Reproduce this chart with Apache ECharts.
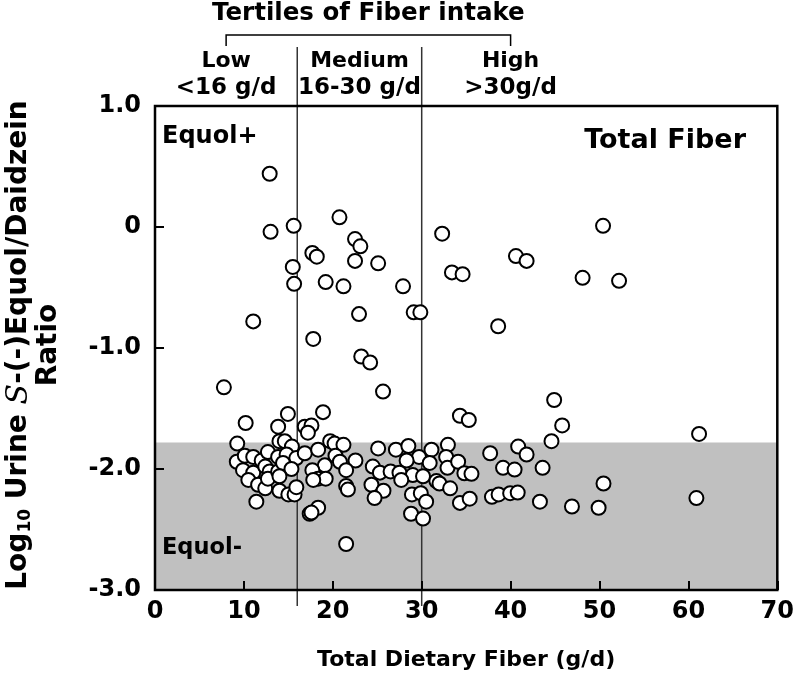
<!DOCTYPE html>
<html><head><meta charset="utf-8">
<script src="https://cdn.jsdelivr.net/npm/echarts@6/dist/echarts.min.js"></script>
<style>html,body{margin:0;padding:0;background:#fff}#c{width:797px;height:683px}</style>
</head><body><div id="c"></div>
<script>
// Total dietary fiber (g/d)
const fiber = [
 12.9,13.0,15.6,20.75,22.5,23.1,32.3,17.7,18.2,22.5,25.1,15.5,15.65,19.2,21.2,27.9,33.4,34.6,11.05,22.95,29.1,29.85,17.8,23.2,24.2,
 40.6,41.8,50.4,48.1,52.2,38.6,7.75,25.65,10.2,44.9,45.8,44.6,61.2,60.9,50.45,49.9,46.9,43.3,43.6,34.3,35.3,18.9,14.95,13.85,16.85,17.6,17.2,21.5,
 9.25,9.2,10.1,11.05,9.9,11.05,10.5,11.6,12.4,11.4,12.0,12.7,12.4,12.9,12.7,13.85,13.85,14.0,14.6,15.4,14.8,15.9,16.85,14.4,15.35,14.0,14.0,15.0,15.7,15.9,17.4,
 19.7,20.2,21.2,18.35,20.3,22.55,20.8,19.1,21.5,17.7,18.35,19.2,17.8,25.1,24.5,25.3,24.35,25.7,24.7,21.5,21.7,18.35,17.6,
 27.1,28.5,29.7,31.1,32.95,28.3,30.9,32.75,32.9,34.1,34.8,35.6,26.5,27.5,29.0,30.15,31.65,27.7,32.0,33.2,28.9,29.9,30.5,28.8,30.15,34.3,35.4,
 37.7,40.85,41.8,39.15,40.45,37.9,38.65,39.95,40.8
];
// Log10 urine S-(-)equol/daidzein ratio
const logRatio = [
 0.44,-0.04,0.01,0.08,-0.10,-0.16,-0.055,-0.215,-0.245,-0.28,-0.30,-0.33,-0.47,-0.455,-0.49,-0.49,-0.375,-0.39,-0.78,-0.72,-0.705,-0.705,-0.925,-1.07,-1.12,
 -0.24,-0.28,0.01,-0.42,-0.445,-0.82,-1.325,-1.36,-1.62,-1.43,-1.64,-1.77,-1.71,-2.24,-2.12,-2.32,-2.31,-2.27,-1.99,-1.56,-1.595,-1.53,-1.545,-1.65,-1.65,-1.64,-1.70,-2.62,
 -1.79,-1.94,-1.89,-1.90,-2.01,-2.03,-2.09,-2.13,-2.16,-2.27,-1.93,-1.86,-1.98,-2.02,-2.08,-1.90,-2.02,-1.77,-1.77,-1.815,-1.88,-1.91,-1.87,-1.95,-2.0,-2.06,-2.18,-2.21,-2.21,-2.15,-2.37,
 -1.77,-1.79,-1.80,-1.84,-1.89,-1.93,-1.94,-1.97,-2.01,-2.01,-2.08,-2.08,-2.09,-1.83,-1.98,-2.03,-2.13,-2.18,-2.24,-2.14,-2.17,-2.32,-2.36,
 -1.84,-1.81,-1.90,-1.84,-1.80,-1.93,-1.95,-1.90,-1.99,-1.94,-2.035,-2.04,-2.02,-2.03,-2.05,-2.06,-2.10,-2.09,-2.12,-2.16,-2.21,-2.20,-2.27,-2.37,-2.41,-2.28,-2.245,
 -1.87,-1.815,-1.88,-1.99,-2.005,-2.23,-2.21,-2.20,-2.195
];
const tertileCuts = [16, 30];
const tertileLabelX = [8, 23, 40];
const tertileNames = ['Low', 'Medium', 'High'];
const tertileRanges = ['<16 g/d', '16-30 g/d', '>30g/d'];
const equolThreshold = -1.78;
const xMin = 0, xMax = 70, xStep = 10;
const yMin = -3, yMax = 1, yStep = 1;

const FF = '"DejaVu Sans", Verdana, sans-serif';
const chart = echarts.init(document.getElementById('c'), null, {renderer: 'canvas'});
const pts = fiber.map((x, i) => [x, logRatio[i]]);

chart.setOption({
  animation: false,
  backgroundColor: '#fff',
  grid: {left: 155, right: 19, top: 106, bottom: 93},
  xAxis: {
    type: 'value', min: xMin, max: xMax, interval: xStep, z: 3,
    axisLine: {show: false, onZero: false},
    axisTick: {show: true, inside: true, length: 9, lineStyle: {color: '#000', width: 2}},
    axisLabel: {color: '#000', fontSize: 24, fontWeight: 'bold', fontFamily: FF, margin: 10},
    splitLine: {show: false},
    name: 'Total Dietary Fiber (g/d)', nameLocation: 'middle', nameGap: 59,
    nameTextStyle: {color: '#000', fontSize: 22, fontWeight: 'bold', fontFamily: FF}
  },
  yAxis: {
    type: 'value', min: yMin, max: yMax, interval: yStep, z: 3,
    axisLine: {show: false, onZero: false},
    axisTick: {show: true, inside: true, length: 9, lineStyle: {color: '#000', width: 2}},
    axisLabel: {color: '#000', fontSize: 24, fontWeight: 'bold', fontFamily: FF, margin: 14,
      formatter: v => v === 0 ? '0' : v.toFixed(1)},
    splitLine: {show: false}
  },
  series: [{
    type: 'scatter', data: pts, symbol: 'circle', symbolSize: 14, z: 5, silent: true,
    itemStyle: {color: '#fff', borderColor: '#000', borderWidth: 2, opacity: 1}
  }]
});

const P = (x, y) => chart.convertToPixel({gridIndex: 0}, [x, y]);
const tl = P(xMin, yMax), br = P(xMax, yMin), band = P(xMin, equolThreshold);
const g = [];
g.push({type: 'rect', z: 0, shape: {x: tl[0], y: band[1], width: br[0] - tl[0], height: br[1] - band[1]}, style: {fill: '#c0c0c0'}});
tertileCuts.forEach(c => {
  const px = P(c, 0)[0];
  g.push({type: 'line', z: 1, shape: {x1: px, y1: 47, x2: px, y2: 606}, style: {stroke: '#333', lineWidth: 1.5}});
});
g.push({type: 'rect', z: 10, shape: {x: tl[0], y: tl[1], width: br[0] - tl[0], height: br[1] - tl[1]}, style: {fill: null, stroke: '#000', lineWidth: 2.5}});
const bl = P(tertileLabelX[0], 0)[0], brx = P(tertileLabelX[2], 0)[0];
g.push({type: 'polyline', z: 1, shape: {points: [[bl, 46], [bl, 35], [brx, 35], [brx, 46]]}, style: {fill: null, stroke: '#000', lineWidth: 1.5}});
const bold = (t, size) => ({text: t, fontSize: size, fontWeight: 'bold', fontFamily: FF, fill: '#000'});
g.push({type: 'text', z: 10, x: (bl + brx) / 2, y: 14, style: Object.assign(bold('Tertiles of Fiber intake', 24.5), {align: 'center', verticalAlign: 'middle'})});
tertileLabelX.forEach((v, i) => {
  const px = P(v, 0)[0];
  g.push({type: 'text', z: 10, x: px, y: 61, style: Object.assign(bold(tertileNames[i], 22), {align: 'center', verticalAlign: 'middle'})});
  g.push({type: 'text', z: 10, x: px, y: 88, style: Object.assign(bold(tertileRanges[i], 23), {align: 'center', verticalAlign: 'middle'})});
});
g.push({type: 'text', z: 10, x: 162, y: 137, style: Object.assign(bold('Equol+', 24), {align: 'left', verticalAlign: 'middle'})});
g.push({type: 'text', z: 10, x: 746, y: 141, style: Object.assign(bold('Total Fiber', 27), {align: 'right', verticalAlign: 'middle'})});
g.push({type: 'text', z: 10, x: 162, y: 548, style: Object.assign(bold('Equol-', 22.5), {align: 'left', verticalAlign: 'middle'})});
g.push({type: 'text', z: 10, x: 34, y: 345, rotation: Math.PI / 2, style: {
  text: '{n|Log}{s|10}{n| Urine }{i|S}{n|-(-)Equol/Daidzein}\n{n|Ratio}',
  align: 'center', verticalAlign: 'middle', fill: '#000',
  rich: {
    n: {fontSize: 28, fontWeight: 'bold', fontFamily: FF, lineHeight: 30},
    s: {fontSize: 17, fontWeight: 'bold', fontFamily: FF, lineHeight: 30, verticalAlign: 'bottom', padding: [12, 0, 0, 0]},
    i: {fontSize: 30, fontStyle: 'italic', fontFamily: '"DejaVu Serif", serif', lineHeight: 30}
  }
}});
chart.setOption({graphic: g});
</script></body></html>
